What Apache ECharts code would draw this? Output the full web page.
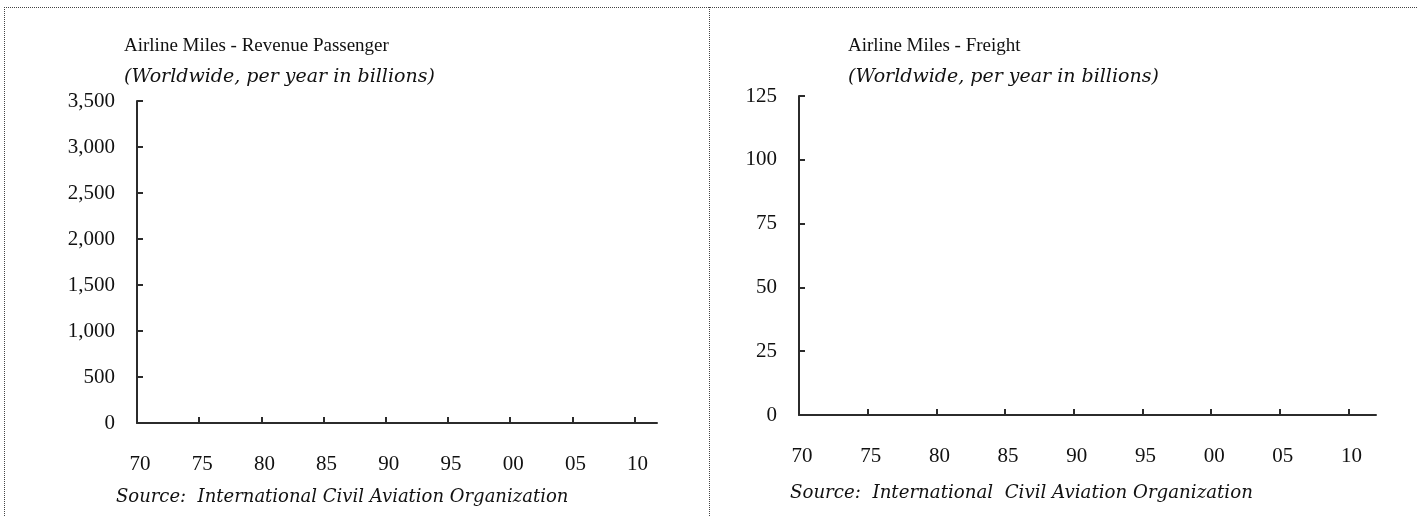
<!DOCTYPE html>
<html>
<head>
<meta charset="utf-8">
<script src="https://cdn.jsdelivr.net/npm/echarts@6/dist/echarts.min.js"></script>
<style>
html,body{margin:0;padding:0;background:#fff;}
#chart{width:1418px;height:517px;}
</style>
</head>
<body>
<div id="chart"></div>
<script>
// ---- data ----
const titles = ['Airline Miles - Revenue Passenger', 'Airline Miles - Freight'];
const subtitle = '(Worldwide, per year in billions)';
const sourceText = 'Source:  International Civil Aviation Organization';
const sourceTextRight = 'Source:  International  Civil Aviation Organization';
const yearTicks = [1975, 1980, 1985, 1990, 1995, 2000, 2005, 2010];
const yearLabels = [1970, 1975, 1980, 1985, 1990, 1995, 2000, 2005, 2010];
const passengerTicks = [0, 500, 1000, 1500, 2000, 2500, 3000, 3500];
const freightTicks = [0, 25, 50, 75, 100, 125];
// no data points are plotted in the reference
const passengerMiles = [];
const freightMiles = [];

const axisColor = '#2b2b2b';
const numFont = 'Liberation Serif';
const titleFont = 'DejaVu Serif';

function yr(v) { return String(v % 100).padStart(2, '0'); }
function num(v) { return v.toLocaleString('en-US'); }

const chart = echarts.init(document.getElementById('chart'), null, {renderer: 'canvas'});

function xAxis(gi, max) {
  return {
    type: 'value', gridIndex: gi, min: 1970, max: max,
    splitLine: {show: false},
    axisLine: {lineStyle: {color: axisColor, width: 2}},
    axisTick: {inside: true, length: 6, lineStyle: {color: axisColor, width: 2}, customValues: yearTicks},
    axisLabel: {customValues: yearLabels, formatter: yr, margin: 31, padding: [0, 0, 0, 6], color: '#111', fontFamily: numFont, fontSize: 21}
  };
}
function yAxis(gi, max, interval, ticks) {
  return {
    type: 'value', gridIndex: gi, min: 0, max: max, interval: interval,
    splitLine: {show: false},
    axisLine: {show: true, lineStyle: {color: axisColor, width: 2}},
    axisTick: {show: true, inside: true, length: 6, lineStyle: {color: axisColor, width: 2}, customValues: ticks},
    axisLabel: {customValues: ticks, formatter: num, margin: 22, color: '#111', fontFamily: numFont, fontSize: 21}
  };
}

const dotted = {stroke: '#444', lineWidth: 1, lineDash: [1, 1]};
function txt(t, left, top, size, italic, font) {
  return {text: t, left: left, top: top, padding: 0,
    textStyle: {fontFamily: font || titleFont, fontStyle: italic ? 'italic' : 'normal', fontWeight: 'normal', fontSize: size, color: '#111'}};
}

chart.setOption({
  animation: false,
  backgroundColor: '#fff',
  title: [
    txt(titles[0], 124, 37, 19, false, 'Liberation Serif'),
    txt(subtitle, 124, 68, 19, true),
    txt(titles[1], 848, 37, 19, false, 'Liberation Serif'),
    txt(subtitle, 848, 68, 19, true),
    txt(sourceText, 116, 488, 18, true),
    txt(sourceTextRight, 790, 484, 18.2, true)
  ],
  grid: [
    {left: 137, top: 101, width: 520, height: 322},
    {left: 799, top: 96, width: 577, height: 319}
  ],
  xAxis: [xAxis(0, 2011.8), xAxis(1, 2012)],
  yAxis: [yAxis(0, 3500, 500, passengerTicks), yAxis(1, 125, 25, freightTicks)],
  series: [
    {type: 'line', xAxisIndex: 0, yAxisIndex: 0, data: passengerMiles, showSymbol: false, lineStyle: {color: '#000'}},
    {type: 'line', xAxisIndex: 1, yAxisIndex: 1, data: freightMiles, showSymbol: false, lineStyle: {color: '#000'}}
  ],
  graphic: [
    {type: 'line', shape: {x1: 4, y1: 7.5, x2: 1418, y2: 7.5}, style: dotted, silent: true},
    {type: 'line', shape: {x1: 4.5, y1: 7, x2: 4.5, y2: 517}, style: dotted, silent: true},
    {type: 'line', shape: {x1: 709.5, y1: 7, x2: 709.5, y2: 517}, style: dotted, silent: true}
  ]
});
</script>
</body>
</html>
